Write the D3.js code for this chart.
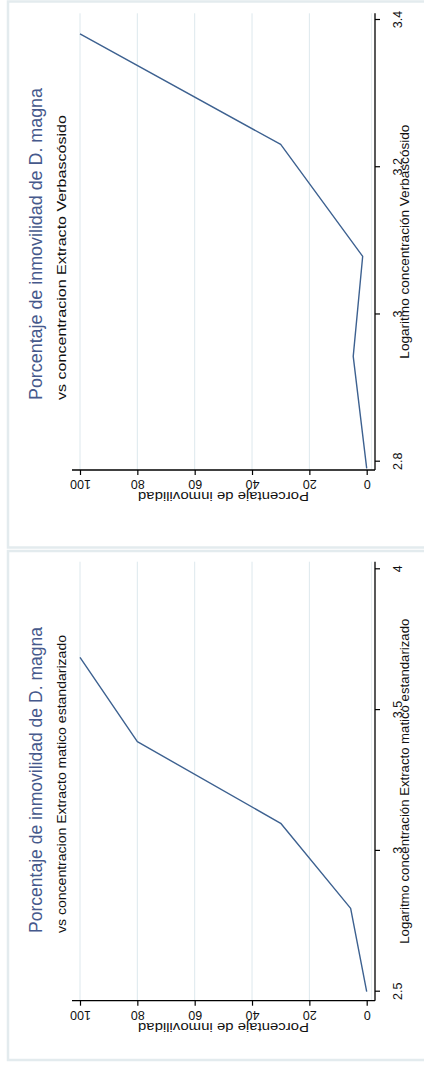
<!DOCTYPE html>
<html>
<head>
<meta charset="utf-8">
<script src="https://cdn.jsdelivr.net/npm/d3@7"></script>
<style>
  html, body { margin: 0; padding: 0; background: #ffffff; }
  svg { display: block; }
  text { font-family: "Liberation Sans", Arial, "DejaVu Sans", sans-serif; }
</style>
</head>
<body>
<svg id="chart" width="424" height="1065"></svg>
<script>
// Log10 concentration and % immobilised for each extract
const verbLogConc = [2.791, 2.943, 3.079, 3.231, 3.381];
const verbPct = [0, 4.7, 1.4, 30, 100];
const maticoLogConc = [2.5, 2.796, 3.098, 3.388, 3.687];
const maticoPct = [0, 5.6, 30, 80, 100];

// Axis ticks
const verbTicks = [2.8, 3, 3.2, 3.4];
const maticoTicks = [2.5, 3, 3.5, 4];
const pctTicks = [0, 20, 40, 60, 80, 100];
const pctGrid = [20, 40, 60, 80, 100];

// Texts
const mainTitle = "Porcentaje de inmovilidad de D. magna";
const verbSubtitle = "vs  concentracion Extracto Verbascósido";
const maticoSubtitle = "vs  concentracion Extracto matico estandarizado";
const verbXTitle = "Logaritmo concentración Verbascósido";
const maticoXTitle = "Logaritmo concentración Extracto matico estandarizado";
const yTitle = "Porcentaje de inmovilidad";

const svg = d3.select("#chart");

// Each panel is laid out as an ordinary chart (x right, y down) and
// then turned a quarter turn counter-clockwise onto the page.
function drawPanel(cfg) {
  // outer frame
  svg.append("rect")
    .attr("x", 8).attr("y", cfg.frameTop)
    .attr("width", 440).attr("height", cfg.frameBottom - cfg.frameTop)
    .attr("fill", "#ffffff")
    .attr("stroke", "#e3ebee")
    .attr("stroke-width", 2.5);

  const B = cfg.frameBottom;
  const g = svg.append("g")
    .attr("transform", `translate(0,${B}) rotate(-90)`);

  const x = d3.scaleLinear().domain(cfg.xDomain).range(cfg.xRange);
  const y = d3.scaleLinear().domain([0, 100]).range([366.7, 80]);

  const plotX0 = cfg.plotX[0], plotX1 = cfg.plotX[1];
  const plotY0 = 72, plotY1 = 375;

  // grid lines
  g.append("g").selectAll("line")
    .data(pctGrid)
    .join("line")
    .attr("x1", plotX0).attr("x2", plotX1)
    .attr("y1", d => y(d)).attr("y2", d => y(d))
    .attr("stroke", "#dde8ed")
    .attr("stroke-width", 1);

  // faint plot-region edge
  g.append("line")
    .attr("x1", plotX0).attr("x2", plotX1)
    .attr("y1", 371.5).attr("y2", 371.5)
    .attr("stroke", "#e8f0f3")
    .attr("stroke-width", 1);

  // data line
  const pts = cfg.xs.map((v, i) => [v, cfg.ys[i]]);
  g.append("path")
    .datum(pts)
    .attr("fill", "none")
    .attr("stroke", "#3d6190")
    .attr("stroke-width", 1.4)
    .attr("stroke-linejoin", "round")
    .attr("d", d3.line().x(d => x(d[0])).y(d => y(d[1])));

  // concentration axis
  const xAxis = d3.axisBottom(x)
    .tickValues(cfg.ticks)
    .tickSize(5)
    .tickSizeOuter(0)
    .tickFormat(d3.format(""));
  const gx = g.append("g")
    .attr("transform", `translate(0,${plotY1})`)
    .call(xAxis);
  gx.select(".domain").remove();
  gx.selectAll(".tick line").attr("stroke", "#000").attr("stroke-width", 1.2);
  gx.selectAll(".tick text")
    .attr("y", 27).attr("dy", 0)
    .attr("fill", "#111")
    .style("font-size", "12.5px");
  g.append("line")
    .attr("x1", plotX0).attr("x2", plotX1)
    .attr("y1", plotY1).attr("y2", plotY1)
    .attr("stroke", "#000").attr("stroke-width", 1.3);

  // percentage axis
  const yAxis = d3.axisLeft(y)
    .tickValues(pctTicks)
    .tickSize(5)
    .tickSizeOuter(0);
  const gy = g.append("g")
    .attr("transform", `translate(${plotX0},0)`)
    .call(yAxis);
  gy.select(".domain").remove();
  gy.selectAll(".tick line").attr("stroke", "#000").attr("stroke-width", 1.2);
  gy.selectAll(".tick text")
    .attr("x", 0).attr("dy", 0)
    .attr("transform", "translate(-10,0) rotate(-90)")
    .attr("text-anchor", "middle")
    .attr("fill", "#111")
    .style("font-size", "12.5px");
  g.append("line")
    .attr("x1", plotX0).attr("x2", plotX0)
    .attr("y1", plotY0).attr("y2", plotY1)
    .attr("stroke", "#000").attr("stroke-width", 1.3);

  // axis titles
  g.append("text")
    .attr("x", (plotX0 + plotX1) / 2 + cfg.xTitleShift)
    .attr("y", 409)
    .attr("text-anchor", "middle")
    .attr("fill", "#111")
    .attr("textLength", cfg.xTitleLen)
    .attr("lengthAdjust", "spacingAndGlyphs")
    .style("font-size", "12.5px")
    .text(cfg.xTitle);

  g.append("text")
    .attr("transform", `translate(${plotX0 - 22},${(plotY0 + plotY1) / 2}) rotate(-90)`)
    .attr("text-anchor", "middle")
    .attr("fill", "#111")
    .attr("textLength", 171)
    .attr("lengthAdjust", "spacingAndGlyphs")
    .style("font-size", "12.5px")
    .text(yTitle);

  // title and subtitle
  g.append("text")
    .attr("x", cfg.titleStart).attr("y", 42)
    .attr("fill", "#46598c")
    .attr("textLength", cfg.titleLen)
    .attr("lengthAdjust", "spacingAndGlyphs")
    .style("font-size", "18.5px")
    .text(mainTitle);

  g.append("text")
    .attr("x", cfg.titleStart).attr("y", 65.5)
    .attr("fill", "#111")
    .attr("textLength", cfg.subLen)
    .attr("lengthAdjust", "spacingAndGlyphs")
    .style("font-size", "13.5px")
    .text(cfg.subtitle);
}

drawPanel({
  frameTop: 1.5, frameBottom: 547.5,
  xDomain: [2.8, 3.4], xRange: [547.5 - 461.7, 547.5 - 20],
  plotX: [547.5 - 470, 547.5 - 13.3],
  xs: verbLogConc, ys: verbPct, ticks: verbTicks,
  xTitle: verbXTitle, xTitleLen: 234, xTitleShift: 0,
  titleStart: 547.5 - 400, titleLen: 312,
  subtitle: verbSubtitle, subLen: 285
});

drawPanel({
  frameTop: 551, frameBottom: 1060,
  xDomain: [2.5, 4], xRange: [1060 - 991.7, 1060 - 569.3],
  plotX: [1060 - 1000.7, 1060 - 561.7],
  xs: maticoLogConc, ys: maticoPct, ticks: maticoTicks,
  xTitle: maticoXTitle, xTitleLen: 325, xTitleShift: 0,
  titleStart: 1060 - 933, titleLen: 306,
  subtitle: maticoSubtitle, subLen: 298
});
</script>
</body>
</html>
